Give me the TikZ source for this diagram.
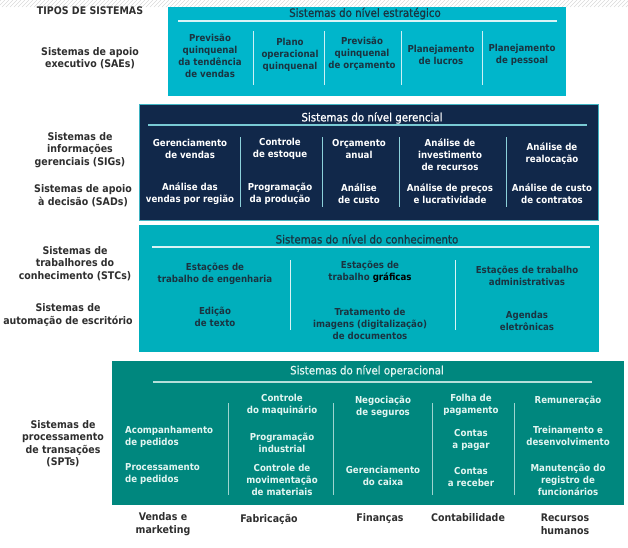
\documentclass[tikz,border=0pt]{standalone}
\usepackage{fontspec}
\setmainfont{DejaVu Sans}
\newfontfamily\condfont{DejaVu Sans Condensed}
\newfontfamily\headfont[FakeBold=0.7]{DejaVu Sans Condensed}
\definecolor{stratC}{HTML}{00B6CB}
\definecolor{manC}{HTML}{11284A}
\definecolor{manEdge}{HTML}{3FB3C2}
\definecolor{knowC}{HTML}{00AFBC}
\definecolor{operC}{HTML}{00877E}
\definecolor{darkT}{HTML}{1A3441}
\definecolor{sideT}{HTML}{2E2E2E}
\definecolor{operT}{HTML}{E2F5F1}
\definecolor{hatchC}{HTML}{D9D9D9}
\begin{document}
\begin{tikzpicture}[x=1pt,y=-1pt,
  ttl/.style={font=\headfont\fontsize{11.4}{12}\selectfont, inner sep=0},
  cell/.style={font=\condfont\bfseries\fontsize{9.6}{12}\selectfont, align=center, inner sep=0},
  side/.style={font=\condfont\bfseries\fontsize{10.5}{12.5}\selectfont, align=center, inner sep=0, text=sideT},
  rule/.style={line width=1.2pt},
  divider/.style={line width=1pt}]
\useasboundingbox (0,0) rectangle (628,547);

% hatched strip along the top edge
\begin{scope}
  \clip (0,0) rectangle (628,7);
  \foreach \x in {-10,-6,...,640}
    \draw[hatchC, line width=0.5pt] (\x,7) -- (\x+7,0);
\end{scope}

% ---------- strategic level ----------
\fill[stratC] (168,7) rectangle (566,96);
\node[ttl, text=darkT] (st) at (365,13.5) {Sistemas do nível estratégico};
\draw[rule, white!85!stratC] (178,21) -- (557,21);
\foreach \x in {253,324,401,482}
  \draw[divider, white!80!stratC] (\x,31) -- (\x,85);
\begin{scope}[every node/.style={cell, text=darkT}]
  \node (s1) at (210,56) {Previsão\\quinquenal\\da tendência\\de vendas};
  \node (s2) at (290,55) {Plano\\operacional\\quinquenal};
  \node (s3) at (362,54) {Previsão\\quinquenal\\de orçamento};
  \node (s4) at (441,55) {Planejamento\\de lucros};
  \node (s5) at (522,55) {Planejamento\\de pessoal};
\end{scope}

% ---------- managerial level ----------
\fill[manC] (139,104) rectangle (599,221);
\draw[manEdge, line width=0.8pt] (139.4,104.4) rectangle (598.6,220.6);
\node[ttl, text=white] (mt) at (372,118) {Sistemas do nível gerencial};
\draw[rule, manEdge!70!white] (148,125) -- (587,125);
\foreach \x in {240,322,399,506}
  \draw[divider, manEdge!60!white] (\x,137) -- (\x,207);
\begin{scope}[every node/.style={cell, text=white}]
  \node (m1) at (190,149) {Gerenciamento\\de vendas};
  \node (m2) at (280,149) {Controle\\de estoque};
  \node (m3) at (359,149) {Orçamento\\anual};
  \node (m4) at (450,155) {Análise de\\investimento\\de recursos};
  \node (m5) at (552,154) {Análise de\\realocação};
  \node (d1) at (190,194) {Análise das\\vendas por região};
  \node (d2) at (280,194) {Programação\\da produção};
  \node (d3) at (359,194) {Análise\\de custo};
  \node (d4) at (450,194) {Análise de preços\\e lucratividade};
  \node (d5) at (552,194) {Análise de custo\\de contratos};
\end{scope}

% ---------- knowledge level ----------
\fill[knowC] (139,225) rectangle (599,352);
\node[ttl, text=darkT] (kt) at (367,239) {Sistemas do nível do conhecimento};
\draw[rule, white!85!knowC] (152,247) -- (590,247);
\foreach \x in {290,455}
  \draw[divider, white!85!knowC] (\x,260) -- (\x,330);
\begin{scope}[every node/.style={cell, text=darkT}]
  \node (k1) at (215,273.5) {Estações de\\trabalho de engenharia};
  \node (k2) at (370,271.5) {Estações de\\trabalho \textcolor{black}{gráficas}};
  \node (k3) at (527,276) {Estações de trabalho\\administrativas};
  \node (o1) at (215,317) {Edição\\de texto};
  \node (o2) at (370,323.5) {Tratamento de\\imagens (digitalização)\\de documentos};
  \node (o3) at (527,321) {Agendas\\eletrônicas};
\end{scope}

% ---------- operational level ----------
\fill[operC] (112,361) rectangle (624,505);
\node[ttl, text=operT] (ot) at (367,371) {Sistemas do nível operacional};
\draw[rule, operT!80!operC] (153,382) -- (592,382);
\foreach \x in {228,333,432,514}
  \draw[divider, operT!70!operC] (\x,403) -- (\x,495);
\begin{scope}[every node/.style={cell, text=operT}]
  \node[align=left, anchor=west] (p1) at (125,437) {Acompanhamento\\de pedidos};
  \node[align=left, anchor=west] (p2) at (125,474) {Processamento\\de pedidos};
  \node (f1) at (282,405) {Controle\\do maquinário};
  \node (f2) at (282,443) {Programação\\industrial};
  \node (f3) at (282,480) {Controle de\\movimentação\\de materiais};
  \node (n1) at (383,407) {Negociação\\de seguros};
  \node (n2) at (383,476) {Gerenciamento\\do caixa};
  \node (c1) at (471,404.5) {Folha de\\pagamento};
  \node (c2) at (471,440) {Contas\\a pagar};
  \node (c3) at (471,477) {Contas\\a receber};
  \node (h1) at (568,401) {Remuneração};
  \node (h2) at (568,436) {Treinamento e\\desenvolvimento};
  \node (h3) at (568,480) {Manutenção do\\registro de\\funcionários};
\end{scope}

% ---------- functional areas ----------
\node[side] (a1) at (163,524) {Vendas e\\marketing};
\node[side] (a2) at (269,519) {Fabricação};
\node[side] (a3) at (380,519) {Finanças};
\node[side] (a4) at (468,518) {Contabilidade};
\node[side] (a5) at (565,524) {Recursos\\humanos};

% ---------- system types ----------
\node[side] (t0) at (90,11) {TIPOS DE SISTEMAS};
\node[side] (t1) at (90,58) {Sistemas de apoio\\executivo (SAEs)};
\node[side] (t2) at (80,150) {Sistemas de\\informações\\gerenciais (SIGs)};
\node[side] (t3) at (83,195.5) {Sistemas de apoio\\à decisão (SADs)};
\node[side] (t4) at (75,263.5) {Sistemas de\\trabalhores do\\conhecimento (STCs)};
\node[side] (t5) at (68,315) {Sistemas de\\automação de escritório};
\node[side] (t6) at (63,443.5) {Sistemas de\\processamento\\de transações\\(SPTs)};
\end{tikzpicture}
\end{document}
